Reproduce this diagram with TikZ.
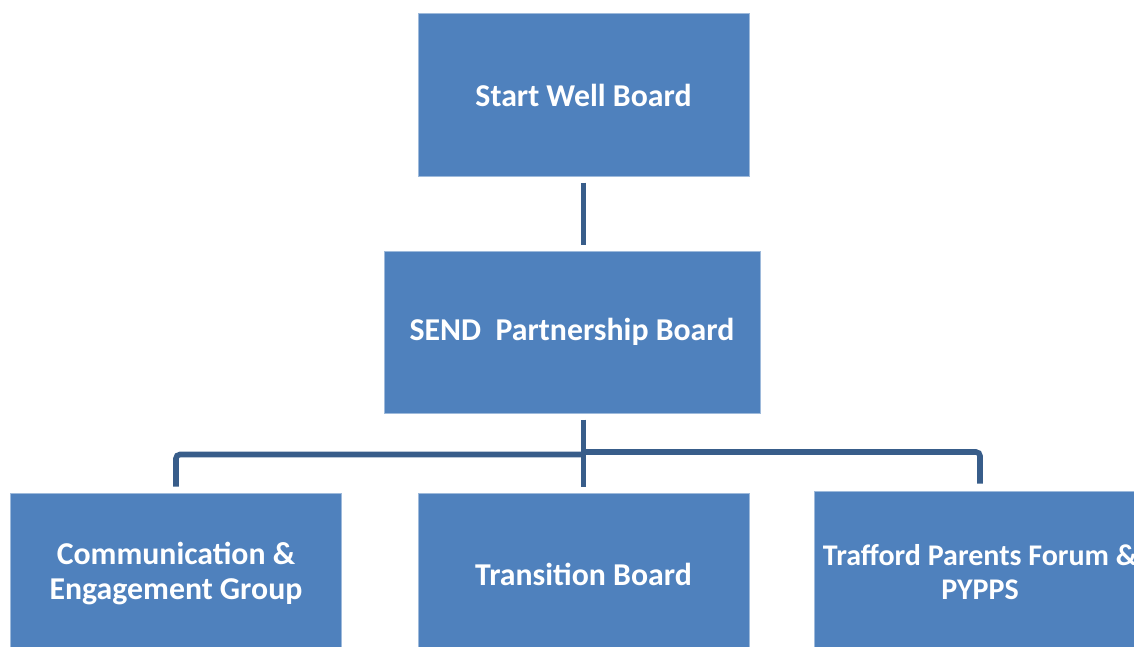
\documentclass[tikz,border=0pt]{standalone}
\usepackage{fontspec}
\setmainfont{Carlito}
\definecolor{boardBlue}{RGB}{79,129,189}
\definecolor{linkBlue}{RGB}{56,93,138}
\begin{document}
\begin{tikzpicture}[x=0.5pt, y=-0.5pt,
        board/.style={rectangle, draw=boardBlue!55!white, line width=0.5pt, fill=boardBlue, minimum width=165.5pt, minimum height=81pt, inner sep=0pt, font=\fontsize{15.9}{17.5}\selectfont\bfseries, text=white, align=center},
        wideboard/.style={board, minimum width=188pt},
        smallboard/.style={board, font=\fontsize{15}{17}\selectfont\bfseries},
        link/.style={draw=linkBlue, line width=2.8pt}
    ]
        \useasboundingbox (0,0) rectangle (1134,647);
        \clip (0,0) rectangle (1134,647);
        \node[board] (startwell) at (583.5,95) {Start Well Board};
        \node[wideboard] (send) at (572,332) {SEND\ \ Partnership Board};
        \node[board] (comms) at (176,574) {Communication \&\\Engagement Group};
        \node[board] (transition) at (583.5,574) {Transition Board};
        \node[smallboard] (parents) at (980,572) {Trafford Parents Forum \&\\PYPPS};
        % connectors
        \coordinate (topstub) at ([yshift=-3pt]startwell.south);
        \coordinate (midstub) at ([yshift=3pt]send.north -| topstub);
        \draw[link] (topstub) -- (midstub);
        \coordinate (sendstub) at ([yshift=-3pt]send.south -| topstub);
        \coordinate (transstub) at ([yshift=3pt]transition.north);
        \draw[link] (sendstub) -- (transstub);
        \draw[link, rounded corners=2pt] (583.5,454.5) -| ([yshift=3pt]comms.north);
        \draw[link, rounded corners=2pt] (583.5,452) -| ([yshift=3.5pt]parents.north);
    \end{tikzpicture}
\end{document}
